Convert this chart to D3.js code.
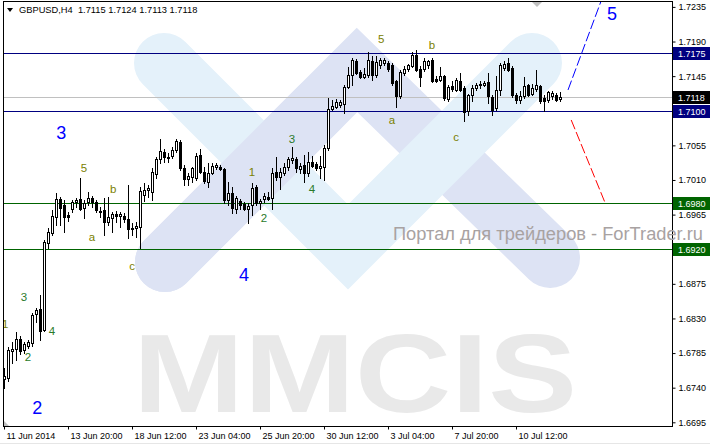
<!DOCTYPE html>
<html>
<head>
<meta charset="utf-8">
<script src="https://cdn.jsdelivr.net/npm/d3@7"></script>
<style>
  body { margin: 0; background: #fff; }
  svg { display: block; font-family: "Liberation Sans", Arial, sans-serif; }
</style>
</head>
<body>
<svg id="chart" width="710" height="445"></svg>
<script>
// GBPUSD H4 candles, 11 Jun 2014 .. 10 Jul 2014
const symbol = "GBPUSD", period = "H4";

const openP = [
  1.6751,1.6753,1.6788,1.6790,1.6803,1.6789,1.6794,1.6798,1.6836,1.6842,
  1.6815,1.6928,1.6941,1.6962,1.6985,1.6978,1.6964,1.6972,1.6981,1.6985,
  1.6974,1.6981,1.6987,1.6981,1.6970,1.6971,1.6955,1.6961,1.6966,1.6963,
  1.6963,1.6959,1.6948,1.6948,1.6949,1.6991,1.6997,1.6994,1.7018,1.7037,
  1.7046,1.7040,1.7041,1.7049,1.7059,1.7026,1.7011,1.7014,1.7013,1.7043,
  1.7020,1.7007,1.7019,1.7027,1.7027,1.7024,1.6984,1.6993,1.6972,1.6983,
  1.6979,1.6972,1.6978,1.7001,1.6980,1.6985,1.6988,1.6987,1.7020,1.7014,
  1.7019,1.7027,1.7036,1.7037,1.7024,1.7030,1.7019,1.7033,1.7031,1.7026,
  1.7027,1.7052,1.7102,1.7105,1.7108,1.7109,1.7131,1.7147,1.7165,1.7150,
  1.7144,1.7147,1.7165,1.7147,1.7160,1.7162,1.7162,1.7160,1.7139,1.7119,
  1.7149,1.7154,1.7158,1.7173,1.7154,1.7154,1.7160,1.7166,1.7141,1.7140,
  1.7145,1.7115,1.7132,1.7127,1.7139,1.7130,1.7100,1.7121,1.7130,1.7134,
  1.7134,1.7137,1.7118,1.7104,1.7127,1.7156,1.7162,1.7156,1.7121,1.7114,
  1.7119,1.7134,1.7122,1.7128,1.7132,1.7117,1.7114,1.7119,1.7121,1.7115
];
const highP = [
  1.6766,1.6793,1.6799,1.6812,1.6807,1.6799,1.6802,1.6837,1.6844,1.6861,
  1.6932,1.6948,1.6971,1.6993,1.6988,1.6984,1.6968,1.6984,1.6987,1.7013,
  1.6984,1.6994,1.6989,1.6984,1.6975,1.6987,1.6988,1.6968,1.6970,1.6968,
  1.6967,1.7004,1.6954,1.6955,1.7001,1.7006,1.7004,1.7026,1.7040,1.7063,
  1.7050,1.7045,1.7053,1.7063,1.7062,1.7030,1.7019,1.7027,1.7045,1.7050,
  1.7027,1.7032,1.7032,1.7032,1.7030,1.7026,1.7007,1.7001,1.6989,1.6985,
  1.6981,1.6980,1.7006,1.7004,1.6985,1.6993,1.6994,1.7026,1.7040,1.7026,
  1.7032,1.7040,1.7053,1.7040,1.7032,1.7043,1.7046,1.7041,1.7033,1.7041,
  1.7056,1.7117,1.7114,1.7115,1.7114,1.7134,1.7157,1.7169,1.7167,1.7153,
  1.7156,1.7176,1.7171,1.7171,1.7169,1.7169,1.7165,1.7162,1.7140,1.7153,
  1.7158,1.7161,1.7176,1.7179,1.7158,1.7169,1.7166,1.7169,1.7145,1.7157,
  1.7147,1.7134,1.7139,1.7143,1.7149,1.7132,1.7122,1.7134,1.7136,1.7139,
  1.7139,1.7149,1.7121,1.7145,1.7162,1.7165,1.7169,1.7158,1.7123,1.7126,
  1.7144,1.7135,1.7135,1.7153,1.7134,1.7121,1.7126,1.7126,1.7123,1.7124
];
const lowP = [
  1.6740,1.6749,1.6772,1.6776,1.6784,1.6785,1.6792,1.6794,1.6825,1.6802,
  1.6814,1.6922,1.6939,1.6952,1.6952,1.6942,1.6957,1.6968,1.6975,1.6971,
  1.6961,1.6978,1.6975,1.6968,1.6962,1.6939,1.6952,1.6942,1.6955,1.6949,
  1.6955,1.6935,1.6939,1.6936,1.6922,1.6983,1.6988,1.6984,1.7013,1.7032,
  1.7033,1.7033,1.7039,1.7046,1.7023,1.7004,1.7004,1.7007,1.7010,1.7019,
  1.7006,1.7001,1.7018,1.7024,1.7023,1.6980,1.6978,1.6967,1.6967,1.6972,
  1.6971,1.6954,1.6964,1.6978,1.6972,1.6981,1.6984,1.6972,1.7010,1.6998,
  1.7017,1.7023,1.7032,1.7020,1.7019,1.7007,1.7015,1.7027,1.7023,1.7013,
  1.7010,1.7049,1.7101,1.7104,1.7105,1.7097,1.7130,1.7134,1.7148,1.7143,
  1.7143,1.7144,1.7140,1.7144,1.7156,1.7160,1.7152,1.7134,1.7105,1.7117,
  1.7147,1.7152,1.7157,1.7152,1.7132,1.7152,1.7156,1.7137,1.7137,1.7139,
  1.7114,1.7113,1.7126,1.7126,1.7126,1.7087,1.7094,1.7113,1.7127,1.7130,
  1.7132,1.7110,1.7094,1.7101,1.7121,1.7153,1.7152,1.7118,1.7110,1.7110,
  1.7117,1.7119,1.7121,1.7126,1.7110,1.7100,1.7111,1.7115,1.7113,1.7113
];
const closeP = [
  1.6755,1.6789,1.6790,1.6803,1.6788,1.6797,1.6799,1.6835,1.6841,1.6814,
  1.6929,1.6942,1.6963,1.6985,1.6974,1.6962,1.6962,1.6981,1.6984,1.6972,
  1.6980,1.6987,1.6981,1.6971,1.6968,1.6955,1.6962,1.6966,1.6963,1.6966,
  1.6959,1.6946,1.6946,1.6950,1.6996,1.6997,1.7000,1.7020,1.7037,1.7048,
  1.7040,1.7039,1.7049,1.7061,1.7026,1.7011,1.7015,1.7026,1.7041,1.7020,
  1.7009,1.7019,1.7028,1.7030,1.7024,1.6984,1.6993,1.6974,1.6987,1.6978,
  1.6972,1.6976,1.7000,1.6980,1.6983,1.6989,1.6985,1.7019,1.7014,1.7020,
  1.7027,1.7037,1.7039,1.7026,1.7028,1.7019,1.7033,1.7028,1.7026,1.7028,
  1.7052,1.7102,1.7106,1.7111,1.7111,1.7131,1.7147,1.7166,1.7149,1.7144,
  1.7148,1.7166,1.7147,1.7163,1.7166,1.7166,1.7154,1.7136,1.7119,1.7150,
  1.7154,1.7160,1.7173,1.7153,1.7144,1.7165,1.7165,1.7139,1.7139,1.7145,
  1.7117,1.7131,1.7128,1.7140,1.7127,1.7098,1.7121,1.7130,1.7134,1.7135,
  1.7136,1.7119,1.7101,1.7127,1.7160,1.7161,1.7153,1.7121,1.7114,1.7119,
  1.7132,1.7121,1.7130,1.7134,1.7113,1.7113,1.7124,1.7123,1.7114,1.7118
];

// time axis: a label every 16 bars
const timeTickBars = [0, 16, 32, 48, 64, 80, 96, 112, 128];
const timeLabels = ["11 Jun 2014", "13 Jun 20:00", "18 Jun 12:00", "23 Jun 04:00",
  "25 Jun 20:00", "30 Jun 12:00", "3 Jul 04:00", "7 Jul 20:00", "10 Jul 12:00"];
const priceTicks = [1.7235, 1.7190, 1.7145, 1.7055, 1.7010, 1.6965,
  1.6875, 1.6830, 1.6785, 1.6740, 1.6695];

// horizontal levels
const resistLevels = [1.7175, 1.7100];
const supportLevels = [1.6980, 1.6920];
const bidPrice = 1.7118;

// wave marks [text, bar, price]
const minorWaves = [
  ["1", 0.3, 1.6823], ["3", 5, 1.6858], ["2", 6, 1.6780], ["4", 12, 1.6814],
  ["5", 20, 1.7026], ["a", 22, 1.6936], ["b", 27.3, 1.6998], ["c", 32, 1.6898],
  ["1", 62, 1.7020], ["2", 65, 1.6961], ["3", 72, 1.7063], ["4", 77, 1.6998],
  ["5", 94.3, 1.7193], ["a", 97, 1.7088], ["b", 107, 1.7186], ["c", 113, 1.7066]
];
const majorWaves = [["2", 8.3, 1.6714], ["3", 14.3, 1.7072], ["4", 60, 1.6887], ["5", 152, 1.7227]];

// forecast lines [bar, price]
const bullPath = [[141, 1.7127], [149.8, 1.7250]];
const bearPath = [[141.8, 1.7088], [150.3, 1.6980]];

const W = 710, H = 445;
const plotL = 3, plotR = 672, plotT = 1, plotB = 426;
const axisFont = "Liberation Sans, Arial, sans-serif";

const svg = d3.select("#chart");
const x = d3.scaleLinear().domain([0, 167]).range([4, 672]);
const y = d3.scaleLinear().domain([1.6695, 1.7235]).range([422.3, 6.9]);
const fmt = d3.format(".4f");

svg.append("defs").append("clipPath").attr("id", "plotclip")
  .append("rect").attr("x", plotL).attr("y", plotT)
  .attr("width", plotR - plotL).attr("height", plotB - plotT);

const plot = svg.append("g").attr("clip-path", "url(#plotclip)");

// background logo (watermark)
const logo = plot.append("g");
const lavender = "#dde3f4", ltblue = "#e4f1fa";
logo.append("polyline").attr("points", "165,262 357,70 550,258")
  .attr("fill", "none").attr("stroke", lavender).attr("stroke-width", 60)
  .attr("stroke-linecap", "round").attr("stroke-linejoin", "miter");
logo.append("polyline").attr("points", "164,63 348,247 532,63")
  .attr("fill", "none").attr("stroke", ltblue).attr("stroke-width", 60)
  .attr("stroke-linecap", "round").attr("stroke-linejoin", "miter");
logo.append("line").attr("x1", 165).attr("y1", 262).attr("x2", 320).attr("y2", 107)
  .attr("stroke", lavender).attr("stroke-width", 60).attr("stroke-linecap", "round");

plot.append("text").attr("x", 133).attr("y", 412)
  .attr("textLength", 444).attr("lengthAdjust", "spacingAndGlyphs")
  .style("font-size", "112px").style("font-weight", "bold").attr("fill", "#e9e9e9")
  .text("MMCIS");

// level lines
plot.selectAll("line.res").data(resistLevels).join("line")
  .attr("x1", plotL).attr("x2", plotR)
  .attr("y1", d => Math.round(y(d)) + 0.5).attr("y2", d => Math.round(y(d)) + 0.5)
  .attr("stroke", "#000080");
plot.selectAll("line.sup").data(supportLevels).join("line")
  .attr("x1", plotL).attr("x2", plotR)
  .attr("y1", d => Math.round(y(d)) + 0.5).attr("y2", d => Math.round(y(d)) + 0.5)
  .attr("stroke", "#006400");
plot.append("line").attr("x1", plotL).attr("x2", plotR)
  .attr("y1", Math.round(y(bidPrice)) + 0.5).attr("y2", Math.round(y(bidPrice)) + 0.5)
  .attr("stroke", "#c0c0c0");

// candles
const candles = openP.map((o, i) => ({ i, o, h: highP[i], l: lowP[i], c: closeP[i] }));
const cg = plot.selectAll("g.candle").data(candles).join("g").attr("class", "candle");
cg.append("line")
  .attr("x1", d => Math.round(x(d.i)) + 0.5).attr("x2", d => Math.round(x(d.i)) + 0.5)
  .attr("y1", d => Math.round(y(d.h))).attr("y2", d => Math.round(y(d.l)) + 1)
  .attr("stroke", "#000");
cg.append("rect")
  .attr("x", d => d.c >= d.o ? Math.round(x(d.i)) - 0.5 : Math.round(x(d.i)) - 1)
  .attr("y", d => Math.round(y(Math.max(d.o, d.c))) + (d.c >= d.o ? 0.5 : 0))
  .attr("width", d => d.c >= d.o ? 2 : 3)
  .attr("height", d => {
    const hgt = Math.round(y(Math.min(d.o, d.c))) - Math.round(y(Math.max(d.o, d.c)));
    return d.c >= d.o ? hgt : Math.max(hgt, 1) + 1;
  })
  .attr("fill", d => d.c >= d.o ? "#fff" : "#000")
  .attr("stroke", d => d.c >= d.o ? "#000" : "none");

// forecast lines
const line = d3.line().x(d => x(d[0])).y(d => y(d[1]));
plot.append("path").attr("d", line(bullPath)).attr("fill", "none")
  .attr("stroke", "#0000ff").attr("stroke-dasharray", "10,3");
plot.append("path").attr("d", line(bearPath)).attr("fill", "none")
  .attr("stroke", "#ff0000").attr("stroke-dasharray", "10,3");

// wave labels
plot.selectAll("text.minor").data(minorWaves).join("text").attr("class", "minor")
  .attr("x", d => x(d[1])).attr("y", d => y(d[2]) + 4)
  .attr("text-anchor", "middle").style("font-size", "11.5px")
  .attr("fill", d => /[234]/.test(d[0]) ? "#2a7a2a" : "#7a8000")
  .text(d => d[0]);
plot.selectAll("text.major").data(majorWaves).join("text").attr("class", "major")
  .attr("x", d => x(d[1])).attr("y", d => y(d[2]) + 6.5)
  .attr("text-anchor", "middle").style("font-size", "18px")
  .attr("fill", "#0000ff").text(d => d[0]);

// chart shift marker and corner
svg.append("path").attr("d", "M532,2 L542,2 L537,7 Z").attr("fill", "#c0c0c0");
svg.append("path").attr("d", "M3,420 L3,426 L9,426 Z").attr("fill", "#c0c0c0");

// border
svg.append("rect").attr("x", plotL + 0.5).attr("y", plotT + 0.5)
  .attr("width", plotR - plotL).attr("height", plotB - plotT)
  .attr("fill", "none").attr("stroke", "#000");

// price axis
const yAxis = svg.append("g").attr("transform", `translate(${plotR + 0.5},0)`)
  .call(d3.axisRight(y).tickValues(priceTicks).tickFormat(fmt).tickSize(3).tickPadding(3));
yAxis.select(".domain").remove();
yAxis.selectAll("text").style("font-size", "9px").style("font-family", axisFont);

// time axis
const xAxis = svg.append("g").attr("transform", `translate(0,${plotB + 0.5})`)
  .call(d3.axisBottom(x).tickValues(timeTickBars).tickFormat((d, i) => timeLabels[i]).tickSize(3).tickPadding(3));
xAxis.select(".domain").remove();
xAxis.selectAll("text").attr("text-anchor", "start").attr("dx", 2)
  .style("font-size", "9px").style("font-family", axisFont);

// price boxes
const boxes = [
  ...resistLevels.map(p => ({ p, fill: "#000080" })),
  ...supportLevels.map(p => ({ p, fill: "#006400" })),
  { p: bidPrice, fill: "#000" }
];
const bg = svg.selectAll("g.box").data(boxes).join("g").attr("class", "box");
bg.append("rect").attr("x", plotR + 1).attr("y", d => Math.round(y(d.p)) - 6)
  .attr("width", W - plotR - 1).attr("height", 13).attr("fill", d => d.fill);
bg.append("text").attr("x", 678).attr("y", d => Math.round(y(d.p)) + 4)
  .style("font-size", "9px").attr("fill", "#fff").text(d => fmt(d.p));

// title
const last = candles[candles.length - 1];
svg.append("path").attr("d", "M7,8 L13,8 L10,12 Z").attr("fill", "#000");
svg.append("text").attr("x", 19).attr("y", 13).style("font-size", "9.3px")
  .style("white-space", "pre")
  .text(`${symbol},${period}  ${fmt(last.o)} ${fmt(last.h)} ${fmt(last.l)} ${fmt(last.c)}`);

// site watermark
svg.append("text").attr("x", 393).attr("y", 239.5)
  .attr("textLength", 310).attr("lengthAdjust", "spacingAndGlyphs")
  .style("font-size", "17.5px").attr("fill", "#a8a2a2")
  .text("Портал для трейдеров - ForTrader.ru");

svg.append("line").attr("x1", 0).attr("x2", W).attr("y1", 443.5).attr("y2", 443.5)
  .attr("stroke", "#e6e6e6");
</script>
</body>
</html>
